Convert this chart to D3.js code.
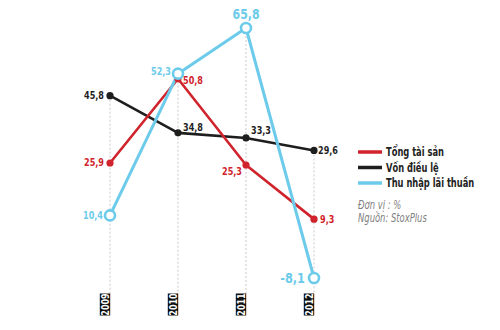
<!DOCTYPE html>
<html><head><meta charset="utf-8">
<script src="https://cdn.jsdelivr.net/npm/d3@7"></script>
<style>
body{margin:0;background:#fff;}
svg{display:block;}
text{font-family:"DejaVu Sans Condensed","Liberation Sans Narrow","Liberation Sans",sans-serif;}
</style></head>
<body>
<svg id="c" width="500" height="330"></svg>
<script>
const years = ["2009","2010","2011","2012"];
const tongTaiSan = [25.9, 50.8, 25.3, 9.3];
const vonDieuLe = [45.8, 34.8, 33.3, 29.6];
const thuNhap = [10.4, 52.3, 65.8, -8.1];
const seriesNames = ["Tổng tài sản","Vốn điều lệ","Thu nhập lãi thuần"];
const noteLines = ["Đơn vị : %","Nguồn: StoxPlus"];

const colors = ["#d0232b","#1e1e1e","#6ccbea"];
const svg = d3.select("#c");
const x = d3.scalePoint().domain(years).range([110,314]);
const all = tongTaiSan.concat(vonDieuLe, thuNhap);
const y = d3.scaleLinear().domain([d3.min(all), d3.max(all)]).range([278,28]);
const fmt = v => String(v).replace(".", ",");

// gridlines + year boxes
years.forEach((yr,i)=>{
  const top = d3.max([tongTaiSan[i], vonDieuLe[i], thuNhap[i]]);
  svg.append("line").attr("x1",x(yr)).attr("x2",x(yr))
    .attr("y1",y(top)).attr("y2",294)
    .attr("stroke","#bbb").attr("stroke-width",0.8).attr("stroke-dasharray","2,2");
  const g = svg.append("g").attr("transform",`translate(${x(yr)-5},304.5)`);
  g.append("rect").attr("x",-5.2).attr("y",-11).attr("width",10.4).attr("height",22).attr("fill","#111");
  g.append("text").attr("transform","rotate(-90) scale(0.85,1)").attr("text-anchor","middle").attr("dy","0.36em")
    .attr("fill","#fff").attr("font-size",10.5).attr("font-weight","bold").text(yr);
});

const line = d3.line().x((d,i)=>x(years[i])).y(d=>y(d));
const series = [tongTaiSan, vonDieuLe, thuNhap];
const widths = [2.6, 2.6, 3];
[1,0,2].forEach(k=>{
  svg.append("path").datum(series[k]).attr("d",line).attr("fill","none")
    .attr("stroke",colors[k]).attr("stroke-width",widths[k]).attr("stroke-linejoin","round");
});
[0,1].forEach(k=>{
  svg.selectAll(null).data(series[k]).enter().append("circle")
    .attr("cx",(d,i)=>x(years[i])).attr("cy",d=>y(d)).attr("r",3.6).attr("fill",colors[k]);
});
svg.selectAll(null).data(thuNhap).enter().append("circle")
  .attr("cx",(d,i)=>x(years[i])).attr("cy",d=>y(d)).attr("r",5)
  .attr("fill","#fff").attr("stroke",colors[2]).attr("stroke-width",2.6);

// value labels: [series index, year index, dx, dy, anchor, size]
const labelSpec = [
  [1,0,-6,0,"end",10],[0,0,-6,0,"end",10],[2,0,-7,0,"end",10],
  [2,1,-7,-2,"end",10],[0,1,5,2,"start",10],[1,1,5,-5,"start",10],
  [2,2,0,-14,"middle",13.5],[1,2,5,-7,"start",10],[0,2,-4,6,"end",10],
  [1,3,4,0,"start",10],[0,3,6,0,"start",10],[2,3,-9,0,"end",14]
];
labelSpec.forEach(([s,i,dx,dy,anc,fs])=>{
  svg.append("text").attr("transform",`translate(${x(years[i])+dx},${y(series[s][i])+dy}) scale(0.9,1)`)
    .attr("dy","0.35em").attr("text-anchor",anc).attr("font-size",fs).attr("font-weight","bold")
    .attr("fill",colors[s]).text(fmt(series[s][i]));
});

// legend
seriesNames.forEach((n,k)=>{
  const yy = 152 + k*15.5;
  svg.append("line").attr("x1",358).attr("x2",382).attr("y1",yy).attr("y2",yy)
    .attr("stroke",colors[k]).attr("stroke-width",3.5);
  svg.append("text").attr("transform",`translate(386,${yy}) scale(0.74,1)`).attr("dy","0.35em").attr("font-size",12.5)
    .attr("font-weight","bold").attr("fill","#222").text(n);
});
noteLines.forEach((t,k)=>{
  svg.append("text").attr("transform",`translate(358,${205+k*13}) scale(0.78,1)`).attr("dy","0.35em").attr("font-size",12)
    .attr("font-style","italic").attr("fill","#808080").text(t);
});
</script>
</body></html>
